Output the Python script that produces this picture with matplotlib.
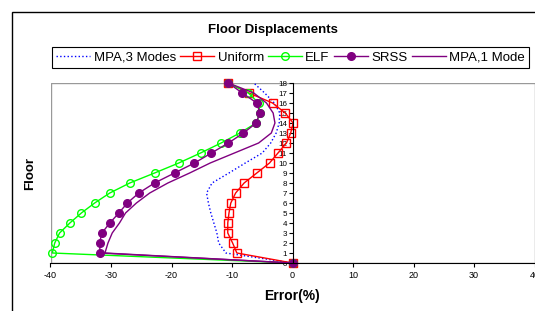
import matplotlib
matplotlib.use("Agg")
import matplotlib.pyplot as plt
from matplotlib.patches import Rectangle

plt.rcParams['font.family'] = ['Liberation Sans', 'DejaVu Sans']
plt.rcParams['axes.unicode_minus'] = False

floors = list(range(19))

mpa3 = [0, -11.0, -12.2, -12.5, -13.0, -13.5, -13.9, -14.2, -13.3, -10.5, -7.8,
        -5.0, -3.6, -2.7, -2.2, -2.1, -3.0, -4.6, -6.4]
uniform = [0, -9.2, -9.9, -10.7, -10.7, -10.5, -10.2, -9.4, -8.0, -5.9, -3.8,
           -2.4, -1.0, -0.3, 0.1, -1.2, -3.3, -7.2, -10.6]
elf = [0, -39.7, -39.3, -38.5, -36.8, -34.9, -32.7, -30.2, -26.9, -22.8, -18.8,
       -15.2, -11.8, -8.7, -6.0, -5.4, -5.6, -7.3, -10.6]
srss = [0, -31.8, -31.9, -31.5, -30.2, -28.7, -27.3, -25.4, -22.8, -19.5, -16.2,
        -13.4, -10.6, -8.1, -6.0, -5.4, -5.9, -8.3, -10.6]
mpa1 = [0, -31.0, -30.5, -29.8, -28.6, -27.6, -25.8, -23.6, -20.6, -17.0, -13.6,
        -9.6, -5.6, -3.5, -2.9, -3.2, -4.3, -6.4, -10.6]

xticks = [-40, -30, -20, -10, 0, 10, 20, 30, 40]

fig = plt.figure(figsize=(5.35, 3.11), dpi=100)

# outer chart frame
fig.patches.append(Rectangle((12 / 535, -0.1), 1.1, 1.1 - 12 / 311, transform=fig.transFigure,
                             fill=False, edgecolor='black', linewidth=1.0))

ax = fig.add_axes([50.5 / 535, 48 / 311, 484 / 535, 180 / 311])

ax.plot(mpa3, floors, color='blue', linestyle=':', linewidth=1.0, label='MPA,3 Modes')
ax.plot(uniform, floors, color='red', linewidth=1.0, marker='s', markersize=5.5,
        markerfacecolor='none', markeredgecolor='red', label='Uniform', clip_on=False)
ax.plot(elf, floors, color='#00ff00', linewidth=1.0, marker='o', markersize=5.5,
        markerfacecolor='none', markeredgecolor='#00ff00', label='ELF', clip_on=False)
ax.plot(srss, floors, color='purple', linewidth=1.0, marker='o', markersize=5.5,
        label='SRSS', clip_on=False)
ax.plot(mpa1, floors, color='purple', linewidth=1.0, label='MPA,1 Mode')

ax.set_xlim(-40, 40)
ax.set_ylim(0, 18)
ax.set_xticks(xticks)
ax.set_yticks(floors)

for s in ['top', 'right']:
    ax.spines[s].set_visible(False)
ax.spines['left'].set_position(('data', 0))
ax.spines['left'].set_color('black')
ax.spines['bottom'].set_color('black')
ax.add_patch(Rectangle((0, 0), 1, 1, transform=ax.transAxes, fill=False,
                       edgecolor='#999999', linewidth=1.0, zorder=0.5))

ax.tick_params(axis='x', labelsize=6.5, length=3, width=0.8, pad=3)
ax.tick_params(axis='y', labelsize=5.8, length=3, width=0.8, pad=1)

fig.text(273 / 535, 1 - 30 / 311, 'Floor Displacements', ha='center', va='center',
         fontsize=9.5, fontweight='bold')
fig.text(30 / 535, 1 - 173 / 311, 'Floor', ha='center', va='center', rotation=90,
         fontsize=9.5, fontweight='bold')
fig.text(292 / 535, 1 - 296 / 311, 'Error(%)', ha='center', va='center',
         fontsize=10, fontweight='bold')

leg = fig.legend(loc='center', bbox_to_anchor=(290.5 / 535, 1 - 57.5 / 311), ncol=5,
                 fontsize=9.5, frameon=True, fancybox=False, edgecolor='black',
                 framealpha=1, handlelength=2.6, handletextpad=0.25,
                 columnspacing=0.3, borderpad=0.3, borderaxespad=0)
leg.get_frame().set_linewidth(0.8)

fig.savefig('out.png', dpi=100)
